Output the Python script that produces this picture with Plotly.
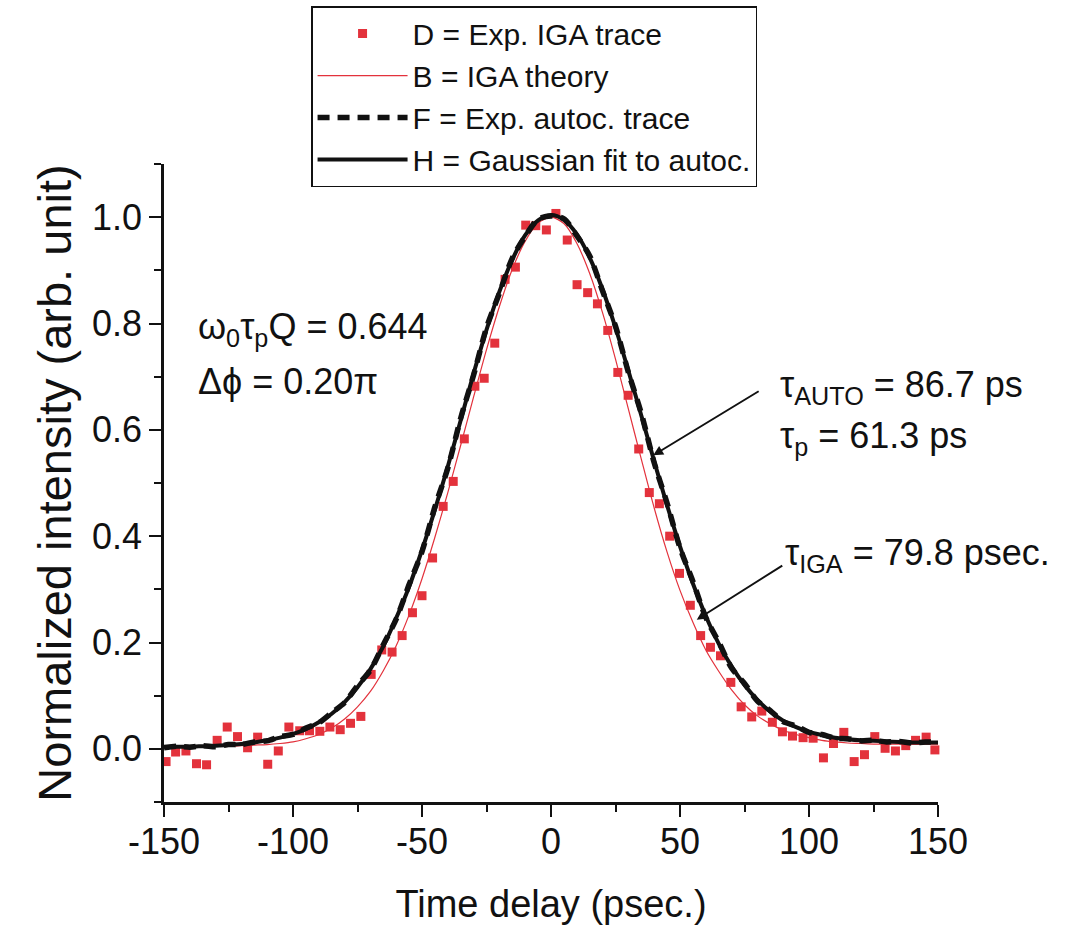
import plotly.graph_objects as go

# ---- experimental IGA trace (red squares) ----
iga_delay = [-149.2, -145.5, -141.5, -137.4, -133.5, -129.4, -125.5, -121.5, -117.6, -113.7,
             -109.8, -105.7, -101.6, -97.4, -93.6, -89.6, -85.7, -81.7, -77.7, -73.7,
             -69.7, -65.6, -61.6, -57.7, -53.7, -50.0, -45.9, -41.8, -37.9, -33.6,
             -29.5, -25.9, -21.8, -17.8, -13.8, -9.8, -5.9, -1.8, 1.9, 6.3,
             10.1, 14.2, 18.0, 22.0, 25.9, 29.9, 34.0, 38.1, 42.0, 46.0,
             49.8, 54.0, 58.0, 61.8, 65.7, 69.7, 73.7, 77.8, 81.7, 85.8,
             89.7, 93.6, 97.7, 101.6, 105.6, 109.5, 113.5, 117.5, 121.5, 125.5,
             129.5, 133.5, 137.5, 141.3, 145.4, 148.8]
iga_exp = [-0.024, -0.006, -0.004, -0.028, -0.030, 0.016, 0.041, 0.023, 0.002, 0.022,
           -0.029, -0.004, 0.041, 0.034, 0.034, 0.033, 0.041, 0.036, 0.048, 0.061,
           0.140, 0.186, 0.182, 0.213, 0.256, 0.288, 0.359, 0.456, 0.503, 0.583,
           0.682, 0.697, 0.763, 0.883, 0.906, 0.985, 0.984, 0.976, 1.007, 0.957,
           0.873, 0.858, 0.837, 0.787, 0.708, 0.665, 0.564, 0.482, 0.461, 0.400,
           0.330, 0.270, 0.213, 0.191, 0.175, 0.125, 0.079, 0.060, 0.071, 0.050,
           0.032, 0.024, 0.021, 0.020, -0.017, 0.010, 0.031, -0.024, -0.011, 0.023,
           0.001, -0.004, 0.006, 0.016, 0.022, -0.002]

# ---- curves sampled every 5 ps ----
delay = [-150, -145, -140, -135, -130, -125, -120, -115, -110, -105,
         -100, -95, -90, -85, -80, -75, -70, -65, -60, -55,
         -50, -45, -40, -35, -30, -25, -20, -15, -10, -5,
         0, 5, 10, 15, 20, 25, 30, 35, 40, 45,
         50, 55, 60, 65, 70, 75, 80, 85, 90, 95,
         100, 105, 110, 115, 120, 125, 130, 135, 140, 145, 150]

iga_theory = [0.004, 0.004, 0.004, 0.004, 0.005, 0.005, 0.006, 0.007, 0.008, 0.010,
              0.013, 0.019, 0.027, 0.039, 0.056, 0.079, 0.108, 0.147, 0.194, 0.252,
              0.320, 0.398, 0.482, 0.571, 0.662, 0.751, 0.832, 0.902, 0.955, 0.989,
              1.000, 0.988, 0.951, 0.894, 0.820, 0.733, 0.639, 0.545, 0.453, 0.370,
              0.298, 0.238, 0.186, 0.146, 0.111, 0.083, 0.062, 0.047, 0.035, 0.027,
              0.021, 0.016, 0.013, 0.011, 0.010, 0.009, 0.009, 0.009, 0.009, 0.009, 0.009]

autoc_exp = [0.002, 0.005, 0.003, 0.006, 0.004, 0.008, 0.008, 0.013, 0.015, 0.023,
             0.027, 0.039, 0.049, 0.068, 0.087, 0.119, 0.148, 0.196, 0.244, 0.309,
             0.371, 0.455, 0.528, 0.622, 0.703, 0.792, 0.857, 0.923, 0.964, 0.996,
             1.002, 0.997, 0.965, 0.927, 0.861, 0.795, 0.708, 0.631, 0.538, 0.462,
             0.378, 0.315, 0.247, 0.201, 0.152, 0.123, 0.090, 0.072, 0.051, 0.043,
             0.031, 0.027, 0.020, 0.019, 0.015, 0.016, 0.013, 0.014, 0.011, 0.013, 0.012]

autoc_fit = [0.004, 0.004, 0.004, 0.005, 0.006, 0.007, 0.009, 0.012, 0.016, 0.021,
             0.028, 0.037, 0.050, 0.066, 0.088, 0.116, 0.150, 0.193, 0.246, 0.305,
             0.374, 0.450, 0.531, 0.618, 0.706, 0.788, 0.860, 0.920, 0.966, 0.994,
             1.004, 0.995, 0.968, 0.924, 0.864, 0.792, 0.711, 0.627, 0.541, 0.458,
             0.381, 0.311, 0.250, 0.198, 0.155, 0.120, 0.092, 0.070, 0.053, 0.041,
             0.032, 0.026, 0.021, 0.018, 0.016, 0.015, 0.014, 0.013, 0.012, 0.012, 0.012]

x_ticks = [-150, -100, -50, 0, 50, 100, 150]
y_ticks = [0.0, 0.2, 0.4, 0.6, 0.8, 1.0]

RED = "#e3323c"
INK = "#111111"
FONT = "Liberation Sans, Arial, sans-serif"

fig = go.Figure()
fig.add_trace(go.Scatter(
    x=iga_delay, y=iga_exp, mode="markers", name="D = Exp. IGA trace",
    marker=dict(symbol="square", size=9, color=RED, line=dict(width=0)),
    cliponaxis=False))
fig.add_trace(go.Scatter(
    x=delay, y=iga_theory, mode="lines", name="B = IGA theory",
    line=dict(color=RED, width=1.2, shape="spline", smoothing=0.8)))
fig.add_trace(go.Scatter(
    x=delay, y=autoc_exp, mode="lines", name="F = Exp. autoc. trace",
    line=dict(color=INK, width=5.5, dash="12px,8px", shape="spline", smoothing=0.8)))
fig.add_trace(go.Scatter(
    x=delay, y=autoc_fit, mode="lines", name="H = Gaussian fit to autoc.",
    line=dict(color=INK, width=4, shape="spline", smoothing=0.8)))

ann_font = dict(family=FONT, size=36, color=INK)
annotations = [
    dict(x=-137.5, y=0.79, xref="x", yref="y", xanchor="left", yanchor="middle",
         text="ω<sub>0</sub>τ<sub>p</sub>Q = 0.644", showarrow=False, font=ann_font),
    dict(x=-137.5, y=0.69, xref="x", yref="y", xanchor="left", yanchor="middle",
         text="Δϕ = 0.20π", showarrow=False, font=ann_font),
    dict(x=88.0, y=0.68, xref="x", yref="y", xanchor="left", yanchor="middle",
         text="τ<sub>AUTO</sub> = 86.7 ps", showarrow=False, font=ann_font),
    dict(x=88.0, y=0.585, xref="x", yref="y", xanchor="left", yanchor="middle",
         text="τ<sub>p</sub> = 61.3 ps", showarrow=False, font=ann_font),
    dict(x=90.0, y=0.365, xref="x", yref="y", xanchor="left", yanchor="middle",
         text="τ<sub>IGA</sub> = 79.8 psec.", showarrow=False, font=ann_font),
    # arrows pointing to the autocorrelation and IGA widths
    dict(x=39.6, y=0.552, xref="x", yref="y", ax=107, ay=-65, axref="pixel", ayref="pixel",
         text="", showarrow=True, arrowhead=2, arrowsize=1.0, arrowwidth=2, arrowcolor=INK),
    dict(x=56.5, y=0.243, xref="x", yref="y", ax=87, ay=-55, axref="pixel", ayref="pixel",
         text="", showarrow=True, arrowhead=2, arrowsize=1.0, arrowwidth=2, arrowcolor=INK),
]

fig.update_layout(
    width=1084, height=927,
    margin=dict(l=164, r=146, t=164, b=125, autoexpand=False),
    paper_bgcolor="white", plot_bgcolor="white",
    font=dict(family=FONT, color=INK),
    showlegend=True,
    legend=dict(x=0.19, y=1.2476, xanchor="left", yanchor="top",
                bgcolor="white", bordercolor=INK, borderwidth=1.5,
                font=dict(family=FONT, size=30, color=INK),
                itemwidth=90, tracegroupgap=0),
    annotations=annotations,
)

fig.update_xaxes(
    range=[-150, 150], tickvals=x_ticks, ticktext=[str(v) for v in x_ticks],
    showgrid=False, zeroline=False, showline=True, linecolor=INK, linewidth=2.5,
    ticks="outside", ticklen=12, tickwidth=2, tickcolor=INK, ticklabelstandoff=-6,
    minor=dict(ticks="outside", ticklen=7, tickwidth=2, tickcolor=INK, dtick=25, showgrid=False),
    tickfont=dict(family=FONT, size=36, color=INK),
    title=dict(text="Time delay (psec.)", font=dict(family=FONT, size=38, color=INK), standoff=30),
)
fig.update_yaxes(
    range=[-0.1, 1.1], tickvals=y_ticks, ticktext=[f"{v:.1f}" for v in y_ticks],
    showgrid=False, zeroline=False, showline=True, linecolor=INK, linewidth=2.5,
    ticks="outside", ticklen=12, tickwidth=2, tickcolor=INK,
    minor=dict(ticks="outside", ticklen=7, tickwidth=2, tickcolor=INK, dtick=0.1, showgrid=False),
    tickfont=dict(family=FONT, size=36, color=INK),
    title=dict(text="Normalized intensity (arb. unit)", font=dict(family=FONT, size=47, color=INK), standoff=6),
)

fig.write_html("out.html")
